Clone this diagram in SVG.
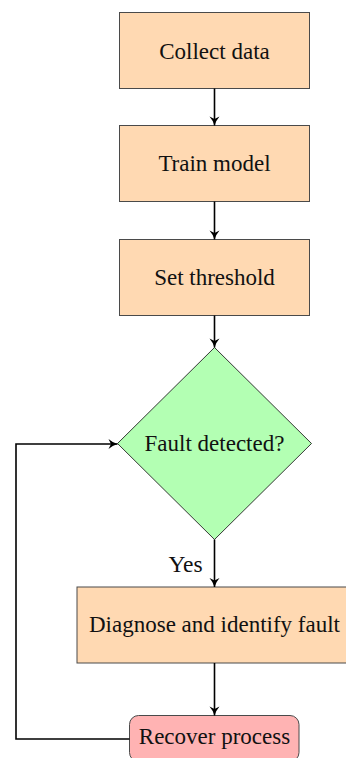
<svg xmlns="http://www.w3.org/2000/svg" width="346" height="758" viewBox="0 0 346 758">
<style>
.box{fill:#FFD9B2;stroke:#4a4a4a;stroke-width:1}
.dec{fill:#B3FFB3;stroke:#222;stroke-width:0.9}
.term{fill:#FFB3B3;stroke:#4a4a4a;stroke-width:1}
.lbl{font-family:"Liberation Serif","Times New Roman",serif;font-size:23px;fill:#111;text-anchor:middle}
.conn{fill:none;stroke:#000;stroke-width:1.6}
</style>
<defs>
<marker id="ah" markerUnits="userSpaceOnUse" markerWidth="14" markerHeight="14" viewBox="-10 -7 12 14" refX="0" refY="0" orient="auto">
<path d="M0,0 Q-5,-1.5 -9,-5 L-6.5,0 L-9,5 Q-5,1.5 0,0 Z" fill="#000"/>
</marker>
</defs>
<rect width="346" height="758" fill="#fff"/>
<g id="n1"><rect class="box" x="119.5" y="12.5" width="190" height="76"/><text class="lbl" x="214.5" y="58.5">Collect data</text></g>
<g id="n2"><rect class="box" x="119.5" y="125.5" width="190" height="76"/><text class="lbl" x="214.5" y="171">Train model</text></g>
<g id="n3"><rect class="box" x="119.5" y="239.5" width="190" height="76"/><text class="lbl" x="214.5" y="285">Set threshold</text></g>
<g id="n4"><polygon class="dec" points="214.5,347.5 311.5,443.5 214.5,539.5 117.5,443.5"/><text class="lbl" x="214.5" y="451">Fault detected?</text></g>
<g id="n5"><rect class="box" x="77" y="587" width="275" height="76"/><text class="lbl" x="214.5" y="631.5">Diagnose and identify fault</text></g>
<g id="n6"><rect class="term" x="129.5" y="715.5" width="169.5" height="46" rx="9" ry="9"/><text class="lbl" x="214.5" y="743.5">Recover process</text></g>
<g id="connectors">
<line class="conn" x1="214.5" y1="88.5" x2="214.5" y2="125.5" marker-end="url(#ah)"/>
<line class="conn" x1="214.5" y1="201.5" x2="214.5" y2="239.5" marker-end="url(#ah)"/>
<line class="conn" x1="214.5" y1="315.5" x2="214.5" y2="347.5" marker-end="url(#ah)"/>
<line class="conn" x1="214.5" y1="539.5" x2="214.5" y2="587" marker-end="url(#ah)"/>
<text class="lbl" x="185.5" y="572" style="font-size:23.5px">Yes</text>
<line class="conn" x1="214.5" y1="663" x2="214.5" y2="715.5" marker-end="url(#ah)"/>
<polyline class="conn" points="129.5,739 16,739 16,444 117.5,444" marker-end="url(#ah)"/>
</g>
</svg>
